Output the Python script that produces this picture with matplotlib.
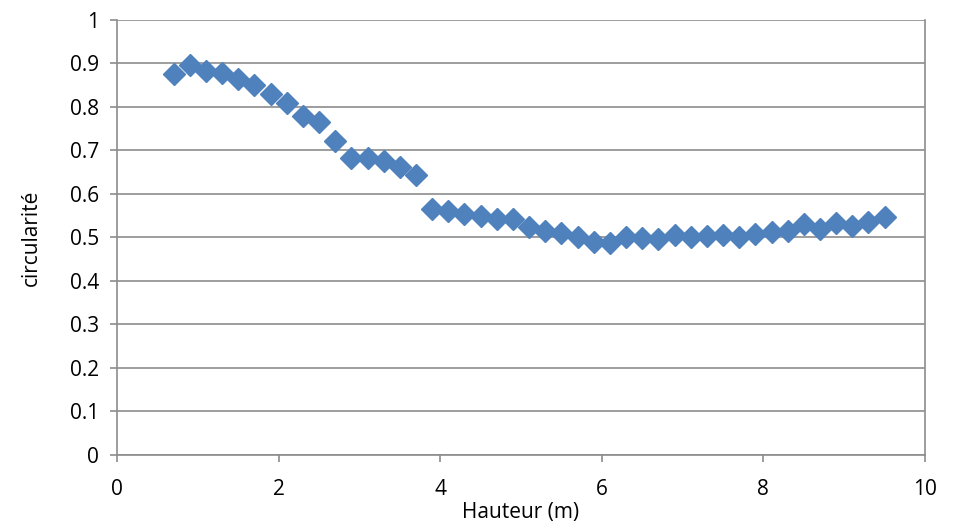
import matplotlib.pyplot as plt

plt.rcParams['font.family'] = ['Open Sans', 'DejaVu Sans']

# height (m) and circularity values
hauteur = [0.7, 0.9, 1.1, 1.3, 1.5, 1.7, 1.9, 2.1, 2.3, 2.5, 2.7, 2.9, 3.1, 3.3, 3.5,
           3.7, 3.9, 4.1, 4.3, 4.5, 4.7, 4.9, 5.1, 5.3, 5.5, 5.7, 5.9, 6.1, 6.3, 6.5,
           6.7, 6.9, 7.1, 7.3, 7.5, 7.7, 7.9, 8.1, 8.3, 8.5, 8.7, 8.9, 9.1, 9.3, 9.5]
circularite = [0.875, 0.897, 0.882, 0.878, 0.865, 0.851, 0.829, 0.810, 0.780, 0.765,
               0.722, 0.683, 0.683, 0.675, 0.662, 0.643, 0.565, 0.560, 0.555, 0.550,
               0.543, 0.543, 0.525, 0.515, 0.510, 0.500, 0.490, 0.488, 0.502, 0.498,
               0.497, 0.505, 0.500, 0.503, 0.505, 0.502, 0.508, 0.512, 0.515, 0.532,
               0.520, 0.533, 0.527, 0.535, 0.548]

xticks = [0, 2, 4, 6, 8, 10]
yticks = [0, 0.1, 0.2, 0.3, 0.4, 0.5, 0.6, 0.7, 0.8, 0.9, 1]
yticklabels = ['0', '0.1', '0.2', '0.3', '0.4', '0.5', '0.6', '0.7', '0.8', '0.9', '1']

fig = plt.figure(figsize=(9.57, 5.29), dpi=100)
ax = fig.add_axes([0.1223, 0.1399, 0.8443, 0.8223])

ax.plot(hauteur, circularite, linestyle='none', marker='D', markersize=11,
        color='#4F81BD', markeredgecolor='#4F81BD', zorder=3)

ax.set_xlim(0, 10)
ax.set_ylim(0, 1)
ax.set_xticks(xticks)
ax.set_yticks(yticks)
ax.set_yticklabels(yticklabels)
ax.grid(axis='y', color='#8C8C8C', linewidth=1.2)
ax.set_axisbelow(True)

for side in ['left', 'bottom', 'right', 'top']:
    ax.spines[side].set_color('#8C8C8C')
    ax.spines[side].set_linewidth(1.2)
ax.spines['top'].set_visible(False)

ax.tick_params(axis='both', colors='#8C8C8C', labelcolor='black', labelsize=15,
               length=5, width=1.2)
ax.tick_params(axis='y', pad=8)
ax.tick_params(axis='x', pad=12)

ax.set_xlabel('Hauteur (m)', fontsize=15, labelpad=2)
ax.set_ylabel('circularité', fontsize=15, labelpad=20)

fig.savefig('out.png', dpi=100)
